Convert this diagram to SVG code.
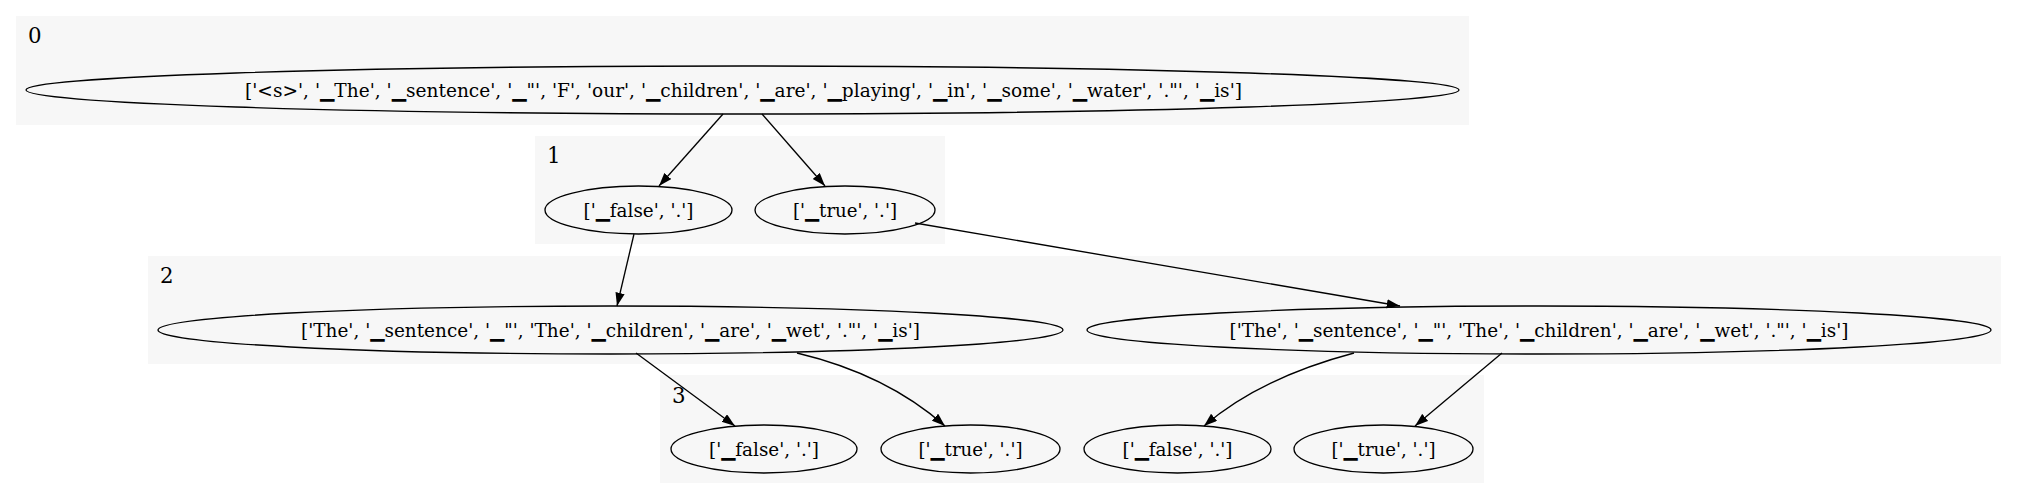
<svg xmlns="http://www.w3.org/2000/svg" width="2017" height="500" viewBox="0 0 2017 500">
<style>
.cl{fill:#f7f7f7;stroke:none}
.cll{font-family:"DejaVu Serif","Liberation Serif",serif;font-size:21.33px;fill:#000}
.nd ellipse{fill:none;stroke:#000;stroke-width:1.33}
.nd text{font-family:"DejaVu Serif","Liberation Serif",serif;font-size:18.67px;fill:#000;text-anchor:middle}
.ed path{fill:none;stroke:#000;stroke-width:1.33}
</style>
<defs>
<marker id="ah" markerWidth="14" markerHeight="10" refX="13.3" refY="4.67" orient="auto" markerUnits="userSpaceOnUse">
<path d="M0,0 L13.3,4.67 L0,9.33 z" fill="#000"/>
</marker>
</defs>
<rect width="2017" height="500" fill="#fff"/>
<g id="cluster0"><rect class="cl" x="16" y="16" width="1453" height="109"/><text class="cll" x="28" y="43">0</text></g>
<g id="cluster1"><rect class="cl" x="535" y="136" width="410" height="108"/><text class="cll" x="547" y="163">1</text></g>
<g id="cluster2"><rect class="cl" x="148" y="256" width="1853" height="108"/><text class="cll" x="160" y="283">2</text></g>
<g id="cluster3"><rect class="cl" x="660" y="375" width="824" height="108"/><text class="cll" x="672" y="403">3</text></g>

<g id="n0" class="nd"><ellipse cx="742.5" cy="90" rx="716.5" ry="24"/><text x="743.5" y="96.5" textLength="997" lengthAdjust="spacingAndGlyphs">['&lt;s&gt;', '▁The', '▁sentence', '▁"', 'F', 'our', '▁children', '▁are', '▁playing', '▁in', '▁some', '▁water', '."', '▁is']</text></g>
<g id="n1a" class="nd"><ellipse cx="638.5" cy="210" rx="93.5" ry="24"/><text x="638.5" y="216.5" textLength="110" lengthAdjust="spacingAndGlyphs">['▁false', '.']</text></g>
<g id="n1b" class="nd"><ellipse cx="845" cy="210" rx="90" ry="24"/><text x="845" y="216.5" textLength="104" lengthAdjust="spacingAndGlyphs">['▁true', '.']</text></g>
<g id="n2a" class="nd"><ellipse cx="610.5" cy="330" rx="452.5" ry="24"/><text x="610.5" y="336.5" textLength="619" lengthAdjust="spacingAndGlyphs">['The', '▁sentence', '▁"', 'The', '▁children', '▁are', '▁wet', '."', '▁is']</text></g>
<g id="n2b" class="nd"><ellipse cx="1539" cy="330" rx="452" ry="24"/><text x="1539" y="336.5" textLength="619" lengthAdjust="spacingAndGlyphs">['The', '▁sentence', '▁"', 'The', '▁children', '▁are', '▁wet', '."', '▁is']</text></g>
<g id="n3a" class="nd"><ellipse cx="764" cy="449" rx="93" ry="24"/><text x="764" y="455.5" textLength="110" lengthAdjust="spacingAndGlyphs">['▁false', '.']</text></g>
<g id="n3b" class="nd"><ellipse cx="970.5" cy="449" rx="89.5" ry="24"/><text x="970.5" y="455.5" textLength="104" lengthAdjust="spacingAndGlyphs">['▁true', '.']</text></g>
<g id="n3c" class="nd"><ellipse cx="1177.5" cy="449" rx="93.5" ry="24"/><text x="1177.5" y="455.5" textLength="110" lengthAdjust="spacingAndGlyphs">['▁false', '.']</text></g>
<g id="n3d" class="nd"><ellipse cx="1383.5" cy="449" rx="89.5" ry="24"/><text x="1383.5" y="455.5" textLength="104" lengthAdjust="spacingAndGlyphs">['▁true', '.']</text></g>

<g id="edges" class="ed">
<path d="M723,114 L659,186" marker-end="url(#ah)"/>
<path d="M762,114 L825,186" marker-end="url(#ah)"/>
<path d="M634,234 L617,306" marker-end="url(#ah)"/>
<path d="M915,223 L1400,306" marker-end="url(#ah)"/>
<path d="M636,353 L735,426" marker-end="url(#ah)"/>
<path d="M797,353 C860,368 910,395 945,426" marker-end="url(#ah)"/>
<path d="M1354,353 C1290,370 1240,395 1204,426" marker-end="url(#ah)"/>
<path d="M1502,353 L1415,426" marker-end="url(#ah)"/>
</g>
</svg>
